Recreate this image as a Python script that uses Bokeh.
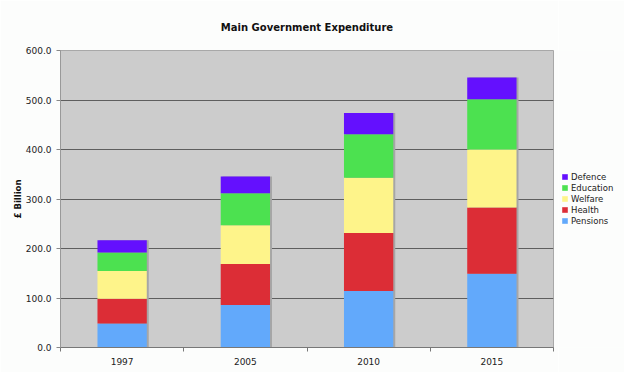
from bokeh.plotting import figure
from bokeh.layouts import row
from bokeh.models import ColumnDataSource, FixedTicker, NumeralTickFormatter, Legend, LegendItem
from bokeh.transform import dodge
from bokeh.embed import file_html
from bokeh.resources import INLINE

# ---- data ----
years = ["1997", "2005", "2010", "2015"]
pensions = [48.4, 85.7, 114.0, 149.0]
health = [50.2, 83.2, 117.5, 134.0]
welfare = [56.1, 78.1, 111.5, 116.8]
education = [37.3, 64.4, 87.8, 101.7]
defence = [24.6, 34.2, 43.1, 44.0]
series = ["Pensions", "Health", "Welfare", "Education", "Defence"]
colors = ["#62a9fb", "#dc2d36", "#fef48a", "#4ce150", "#6410fe"]
y_ticks = [0, 100, 200, 300, 400, 500, 600]
grid_ticks = [100, 200, 300, 400, 500]

xs = [i + 0.5 for i in range(len(years))]
totals = [sum(v) for v in zip(pensions, health, welfare, education, defence)]
source = ColumnDataSource(dict(x=xs, Pensions=pensions, Health=health, Welfare=welfare,
                               Education=education, Defence=defence, total=totals))

FONT = "DejaVu Sans"
PAGE_BG = "#fcfdfc"

p = figure(width=558, height=372, output_backend="svg", toolbar_location=None,
           x_range=(0, len(years)), y_range=(0, 600),
           title="Main Government Expenditure",
           min_border_left=60, min_border_right=5, min_border_top=50, min_border_bottom=25)

p.background_fill_color = "#cccccc"
p.border_fill_color = PAGE_BG
p.outline_line_color = "#a8a8a8"

p.title.align = "center"
p.title.text_font = FONT
p.title.text_font_size = "10px"
p.title.text_font_style = "bold"
p.title.text_color = "#111111"
p.title.standoff = 36
p.title.offset = 5

# shadow behind each stack
p.vbar(x=dodge("x", 0.016, range=p.x_range), top="total", width=0.4, source=source,
       fill_color="#a6a6a6", line_color=None)

renderers = p.vbar_stack(series, x="x", width=0.4, source=source,
                         fill_color=colors, line_color=None)

# axes
p.xaxis.ticker = FixedTicker(ticks=xs, minor_ticks=list(range(len(years) + 1)))
p.xaxis.major_label_overrides = {x: y for x, y in zip(xs, years)}
p.xaxis.major_tick_line_color = None
p.xaxis.minor_tick_in = 0
p.xaxis.minor_tick_out = 4
p.xaxis.minor_tick_line_color = "#777777"
p.xaxis.axis_line_color = "#777777"
p.xaxis.major_label_standoff = 4

p.yaxis.ticker = FixedTicker(ticks=y_ticks)
p.yaxis.formatter = NumeralTickFormatter(format="0.0")
p.yaxis.minor_tick_line_color = None
p.yaxis.major_tick_in = 0
p.yaxis.major_tick_out = 4
p.yaxis.major_tick_line_color = "#888888"
p.yaxis.axis_line_color = "#999999"
p.yaxis.major_label_standoff = 5
p.yaxis.axis_label = "£ Billion"
p.yaxis.axis_label_text_font = FONT
p.yaxis.axis_label_text_font_size = "8.5px"
p.yaxis.axis_label_text_font_style = "bold"
p.yaxis.axis_label_text_color = "#111111"
p.yaxis.axis_label_standoff = 0

for ax in (p.xaxis, p.yaxis):
    ax.major_label_text_font = FONT
    ax.major_label_text_font_size = "9px"
    ax.major_label_text_color = "#222222"

p.xgrid.grid_line_color = None
p.ygrid.ticker = FixedTicker(ticks=grid_ticks)
p.ygrid.grid_line_color = "#5e5e5e"
p.ygrid.grid_line_width = 1

# ---- legend panel to the right of the chart ----
lg = figure(width=66, height=372, output_backend="svg", toolbar_location=None,
            x_range=(0, 1), y_range=(0, 1), min_border=0,
            x_axis_location=None, y_axis_location=None)
lg.outline_line_color = None
lg.background_fill_color = PAGE_BG
lg.border_fill_color = PAGE_BG
lg.xgrid.grid_line_color = None
lg.ygrid.grid_line_color = None

# swatch-only renderers: zero-height bars that draw nothing, only feed the legend
swatch_src = ColumnDataSource(dict(x=[0.5], top=[0.0]))
swatches = [lg.vbar(x="x", top="top", bottom="top", width=0.4, source=swatch_src,
                    fill_color=c, line_color=None) for c in colors]

items = [LegendItem(label=name, renderers=[r]) for name, r in zip(series, swatches)][::-1]
legend = Legend(items=items, location=(3, 121), padding=0, margin=0, spacing=0,
                label_height=11, glyph_height=7, glyph_width=7, label_standoff=3,
                label_text_font=FONT, label_text_font_size="8.5px",
                label_text_color="#222222",
                background_fill_alpha=0, border_line_color=None)
lg.add_layout(legend, "center")

layout = row(p, lg, spacing=0)
open("out.html", "w").write(file_html(layout, INLINE))
